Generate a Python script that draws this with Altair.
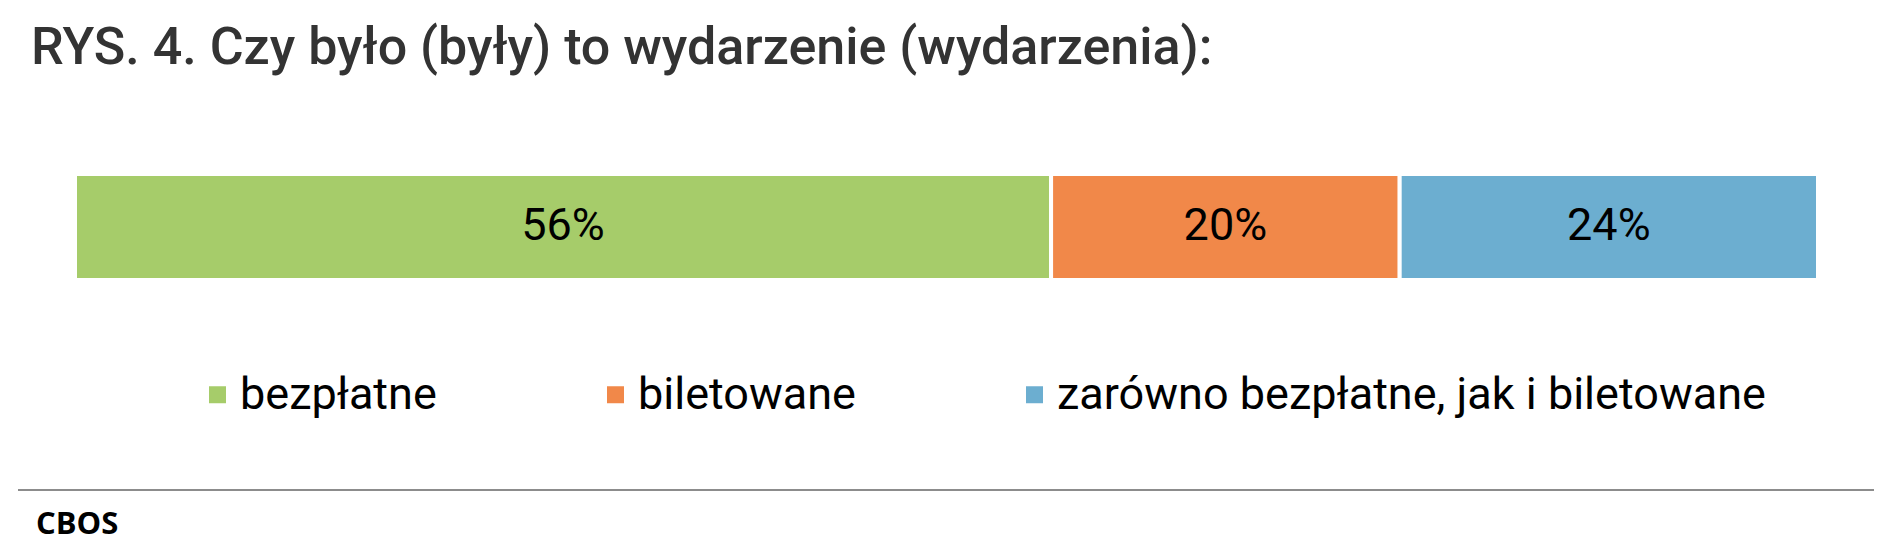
import altair as alt
import pandas as pd

# --- data ---
categories = ["bezpłatne", "biletowane", "zarówno bezpłatne, jak i biletowane"]
values = [56, 20, 24]
order = [0, 1, 2]
colors = ["#A6CC6A", "#F18849", "#6CAED0"]
title_text = "RYS. 4. Czy było (były) to wydarzenie (wydarzenia):"
footer_text = ["CBOS"]

df = pd.DataFrame({"kategoria": categories, "procent": values, "kolejnosc": order})

base = (
    alt.Chart(df)
    .transform_window(
        koniec="sum(procent)",
        sort=[alt.SortField("kolejnosc")],
        frame=[None, 0],
    )
    .transform_calculate(
        poczatek="datum.koniec - datum.procent",
        srodek="datum.koniec - datum.procent / 2",
        etykieta="datum.procent + '%'",
        wiersz="'1'",
    )
)

xscale = alt.Scale(domain=[0, 100], nice=False, zero=True)
yscale = alt.Scale(paddingInner=0, paddingOuter=0)

bars = base.mark_bar(stroke="white", strokeWidth=4).encode(
    x=alt.X("poczatek:Q", scale=xscale, axis=None),
    x2="koniec:Q",
    y=alt.Y(
        "wiersz:N",
        scale=yscale,
        axis=alt.Axis(labels=False, ticks=False, title=None, grid=False,
                      domainColor="#d9d9d9", domainWidth=1),
    ),
    color=alt.Color(
        "kategoria:N",
        scale=alt.Scale(domain=categories, range=colors),
        sort=categories,
        legend=alt.Legend(
            orient="none",
            legendX=120,
            legendY=198,
            direction="horizontal",
            title=None,
            symbolType="square",
            symbolSize=289,
            symbolStrokeWidth=0,
            symbolOpacity=1,
            labelFont="Roboto",
            labelFontSize=45,
            labelColor="black",
            labelLimit=1000,
            labelOffset=0,
            columnPadding=156,
        ),
    ),
)

labels = base.mark_text(font="Roboto", fontSize=45, color="black", baseline="middle", dy=-1).encode(
    x=alt.X("srodek:Q", scale=xscale),
    y=alt.Y("wiersz:N", scale=yscale),
    text="etykieta:N",
)

rule = alt.Chart(pd.DataFrame({"r": [0]})).mark_rule(color="#8c8c8c", strokeWidth=2).encode(
    x=alt.value(-57), x2=alt.value(1799), y=alt.value(316)
)

footer = alt.Chart(pd.DataFrame({"t": footer_text})).mark_text(
    font="Open Sans", fontSize=31, fontWeight="bold", color="black",
    align="left", baseline="alphabetic",
).encode(x=alt.value(-39), y=alt.value(360), text="t:N")

chart = (
    alt.layer(bars, labels, rule, footer)
    .properties(
        width=1743,
        height=106,
        autosize=alt.AutoSizeParams(type="none"),
        padding={"left": 67, "top": 166, "right": 65, "bottom": 263},
        title=alt.TitleParams(
            text=title_text,
            anchor="start",
            frame="group",
            font="Roboto",
            fontSize=52,
            fontWeight=500,
            color="#333333",
            dx=-44,
            baseline="alphabetic",
            offset=56,
        ),
    )
    .configure_view(stroke=None)
)

chart.save("out.html", embed_options={"renderer": "svg", "actions": False})
